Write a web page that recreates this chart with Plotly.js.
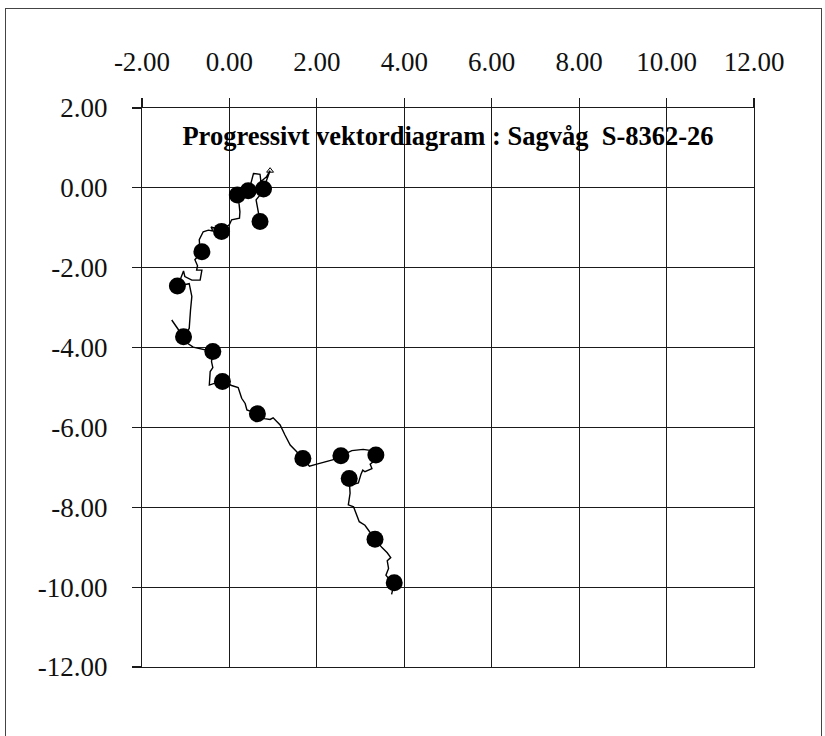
<!DOCTYPE html>
<html>
<head>
<meta charset="utf-8">
<script src="https://cdn.plot.ly/plotly-3.0.1.min.js"></script>
<style>
  html, body { margin: 0; padding: 0; background: #fff; }
  #wrap { position: relative; width: 825px; height: 736px; overflow: hidden; }
  #chart { position: absolute; left: 0; top: 0; width: 825px; height: 736px; }
  #frame { position: absolute; left: 5px; top: 8px; width: 817px; height: 740px;
           border: 1.5px solid #444; pointer-events: none; box-sizing: border-box; }
</style>
</head>
<body>
<div id="wrap"><div id="chart"></div><div id="frame"></div></div>
<script>
// Progressive vector path (km)
const pathX = [0.70,0.66,0.61,0.72,0.78,0.86,0.93,0.85,0.72,0.70,0.55,0.50,0.43,0.30,0.18,0.22,0.24,0.23,0.05,0.00,
  -0.18,-0.30,-0.42,-0.38,-0.48,-0.60,-0.69,-0.68,-0.63,-0.79,-0.73,-0.75,-0.63,-0.67,-0.86,-1.02,-1.05,-1.12,-1.19,
  -0.92,-0.86,-0.89,-0.90,-0.92,-1.05,-1.32,-1.08,-0.95,-0.83,-0.60,-0.38,-0.41,-0.38,-0.44,-0.45,-0.46,-0.33,-0.16,
  0.05,0.20,0.28,0.36,0.40,0.64,0.80,0.93,1.00,1.16,1.27,1.39,1.54,1.68,1.83,2.00,2.23,2.40,2.55,2.80,3.06,3.25,3.35,
  3.30,3.22,3.26,3.10,3.05,3.01,2.95,2.84,2.74,2.76,2.74,2.72,2.84,2.91,2.97,3.10,3.22,3.33,3.49,3.61,3.69,3.61,3.64,
  3.58,3.66,3.77,3.71];
const pathY = [-0.84,-0.55,-0.30,-0.15,-0.03,0.22,0.43,0.28,0.16,0.34,0.36,0.15,-0.07,-0.02,-0.18,-0.40,-0.60,-0.76,-0.80,-0.92,
  -1.09,-1.02,-0.98,-1.08,-1.06,-1.10,-1.30,-1.45,-1.60,-1.80,-1.95,-2.06,-2.06,-2.31,-2.31,-2.22,-2.08,-2.28,-2.46,
  -2.40,-2.72,-3.06,-3.31,-3.52,-3.73,-3.31,-3.70,-3.90,-3.99,-4.04,-4.10,-4.35,-4.50,-4.60,-4.80,-4.94,-4.89,-4.85,
  -4.95,-5.00,-5.27,-5.40,-5.56,-5.66,-5.78,-5.80,-5.76,-5.94,-6.19,-6.44,-6.61,-6.78,-6.97,-6.92,-6.86,-6.80,-6.71,-6.58,-6.55,-6.58,-6.69,
  -6.85,-6.92,-7.03,-7.11,-7.07,-7.17,-7.39,-7.42,-7.28,-7.65,-7.85,-7.94,-7.99,-8.20,-8.36,-8.45,-8.65,-8.80,-9.01,-9.14,-9.26,-9.34,-9.53,
  -9.70,-9.81,-9.89,-10.18];

// Daily positions (filled dots)
const markerX = [0.70,0.78,0.43,0.18,-0.18,-0.63,-1.19,-1.05,-0.38,-0.16,0.64,1.68,2.55,3.35,2.74,3.33,3.77];
const markerY = [-0.84,-0.03,-0.07,-0.18,-1.09,-1.60,-2.46,-3.73,-4.10,-4.85,-5.66,-6.78,-6.71,-6.69,-7.28,-8.80,-9.89];

// Start tip
const tipX = [0.93];
const tipY = [0.43];

const xTickVals = [-2,0,2,4,6,8,10,12];
const xTickText = ["-2.00","0.00","2.00","4.00","6.00","8.00","10.00","12.00"];
const yTickVals = [2,0,-2,-4,-6,-8,-10,-12];
const yTickText = ["2.00","0.00","-2.00","-4.00","-6.00","-8.00","-10.00","-12.00"];

const titleText = "<b>Progressivt vektordiagram : Sagvåg\u00a0 S-8362-26</b>";

const serif = "Liberation Serif, Times New Roman, serif";

const traces = [
  { x: pathX, y: pathY, mode: "lines", type: "scatter",
    line: { color: "#000", width: 1.4 }, hoverinfo: "skip" },
  { x: markerX, y: markerY, mode: "markers", type: "scatter",
    marker: { color: "#000", size: 17, line: { width: 0 } } },
  { x: tipX, y: tipY, mode: "markers", type: "scatter",
    marker: { symbol: "triangle-up-open", color: "#000", size: 6, line: { width: 1 } } }
];

const axisCommon = {
  showgrid: true, gridcolor: "#1a1a1a", gridwidth: 1.2,
  showline: true, linecolor: "#1a1a1a", linewidth: 1.2, mirror: true,
  ticks: "outside", ticklen: 9, tickcolor: "#1a1a1a", tickwidth: 1.2,
  zeroline: false, tickmode: "array",
  tickfont: { family: serif, size: 27, color: "#111" }
};

const layout = {
  width: 825, height: 736, autosize: false,
  margin: { l: 142, r: 71, t: 108, b: 69, pad: 0 },
  paper_bgcolor: "#fff", plot_bgcolor: "#fff",
  showlegend: false,
  title: { text: titleText, x: 0.5, xanchor: "center", xref: "paper",
           y: 1 - 136/736, yanchor: "middle", yref: "container",
           font: { family: serif, size: 26.5, color: "#000" } },
  xaxis: Object.assign({}, axisCommon, {
    range: [-2, 12], side: "top", tickvals: xTickVals, ticktext: xTickText,
    ticklabelstandoff: 16
  }),
  yaxis: Object.assign({}, axisCommon, {
    range: [-12, 2], tickvals: yTickVals, ticktext: yTickText,
    ticklabelstandoff: 19
  })
};

Plotly.newPlot("chart", traces, layout, { displayModeBar: false, staticPlot: true });
</script>
</body>
</html>
